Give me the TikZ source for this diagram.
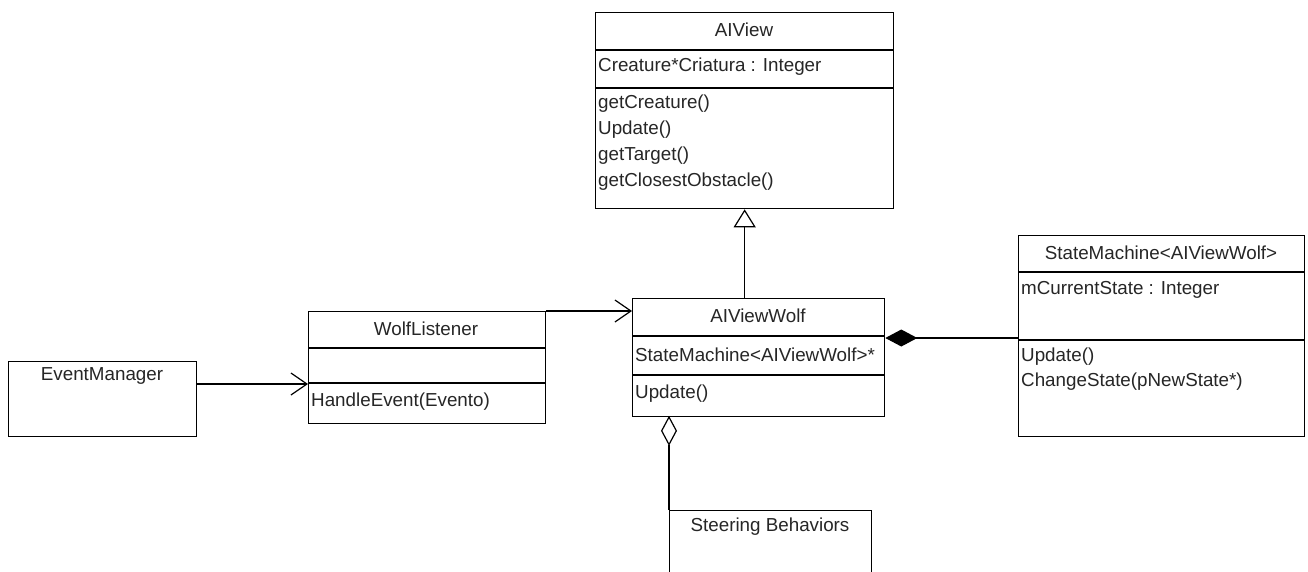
\documentclass[tikz,border=0pt]{standalone}
\usepackage{fontspec}
\setmainfont{Liberation Sans}
\usetikzlibrary{arrows.meta}
\tikzset{
  cls/.style={draw=black, line width=1.3pt, fill=white, inner sep=0pt, anchor=north west},
  sep/.style={draw=black, line width=1.1pt},
  title/.style={inner sep=0pt, anchor=center, text=black!85, font=\fontsize{18.8}{21}\selectfont},
  member/.style={inner sep=0pt, anchor=west, text=black!85, font=\fontsize{18.8}{21}\selectfont},
  conn/.style={draw=black, line width=1.2pt},
  navto/.style={conn, -{Straight Barb[length=16pt,width=22pt,line width=1.2pt]}},
  inherit/.style={conn, -{Triangle[open,length=18pt,width=22pt,line width=1.2pt,fill=white]}},
  compose/.style={conn, {Diamond[length=32pt,width=17pt,fill=black]}-},
  aggregate/.style={conn, shorten <=-1.5pt, {Diamond[open,length=30pt,width=16pt,fill=white,line width=1.2pt]}-},
}
\begin{document}
\begin{tikzpicture}[x=1pt,y=-1pt]
\clip (0,0) rectangle (1308,571);
\fill[white] (0,0) rectangle (1308,571);

% AIView
\node[cls, minimum width=298pt, minimum height=196pt] (aiview) at (595,12) {};
\draw[sep] (595,50) -- (893,50);
\draw[sep] (595,88) -- (893,88);
\node[title] (aiviewT) at (744,30) {AIView};
\node[member] (aiviewA) at (598,67) {Creature*Criatura : Integer};
\node[member] (aiviewM1) at (598,104) {getCreature()};
\node[member] (aiviewM2) at (598,130) {Update()};
\node[member] (aiviewM3) at (598,156) {getTarget()};
\node[member] (aiviewM4) at (598,182) {getClosestObstacle()};

% AIViewWolf
\node[cls, minimum width=252pt, minimum height=118pt] (wolfview) at (632,298) {};
\draw[sep] (632,336) -- (884,336);
\draw[sep] (632,375) -- (884,375);
\node[title] (wolfviewT) at (758,316) {AIViewWolf};
\node[member] (wolfviewA) at (635,355) {StateMachine<AIViewWolf>*};
\node[member] (wolfviewM) at (635,394) {Update()};

% StateMachine<AIViewWolf>
\node[cls, minimum width=286pt, minimum height=201pt] (sm) at (1018,235) {};
\draw[sep] (1018,272) -- (1304,272);
\draw[sep] (1018,340) -- (1304,340);
\node[title] (smT) at (1161,253) {StateMachine<AIViewWolf>};
\node[member] (smA) at (1021,290) {mCurrentState : Integer};
\node[member] (smM1) at (1021,357) {Update()};
\node[member] (smM2) at (1021,382) {ChangeState(pNewState*)};

% WolfListener
\node[cls, minimum width=237pt, minimum height=112pt] (listener) at (308,311) {};
\draw[sep] (308,348) -- (545,348);
\draw[sep] (308,383) -- (545,383);
\node[title] (listenerT) at (426,329) {WolfListener};
\node[member] (listenerM) at (311,402) {HandleEvent(Evento)};

% EventManager
\node[cls, minimum width=188pt, minimum height=75pt] (events) at (8,361) {};
\node[title] (eventsT) at (102,376) {EventManager};

% Steering Behaviors
\node[cls, minimum width=202pt, minimum height=80pt] (steering) at (669,510) {};
\node[title] (steeringT) at (770,527) {Steering Behaviors};

% Connectors
\coordinate (gentop) at (aiview.south);
\draw[inherit] (gentop |- wolfview.north) -- (aiview.south);
\draw[navto] (listener.north east) -- (listener.north east -| wolfview.west);
\draw[navto] (events.east |- 0,384) -- (listener.west |- 0,384);
\draw[compose] (wolfview.east |- 0,338) -- (sm.west |- 0,338);
\draw[aggregate] (steering.north west |- wolfview.south) -- (steering.north west);
\end{tikzpicture}
\end{document}
